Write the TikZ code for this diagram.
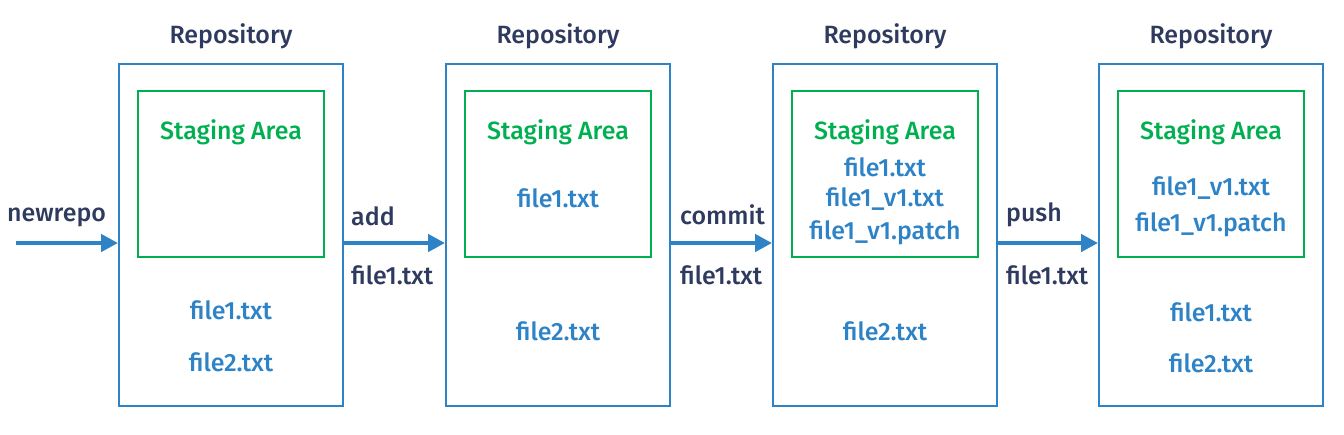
\documentclass[tikz,border=0pt]{standalone}
\usepackage{fontspec}
\setmainfont{Fira Sans Medium}
\usetikzlibrary{arrows.meta}
\definecolor{repoblue}{RGB}{46,131,198}
\definecolor{stagegreen}{RGB}{0,176,80}
\definecolor{labelnavy}{RGB}{47,59,94}
\tikzset{
  repobox/.style={draw=repoblue, line width=1.1pt, minimum width=4.48cm, minimum height=6.84cm},
  stagebox/.style={draw=stagegreen, line width=1.1pt, minimum width=3.72cm, minimum height=3.32cm},
  title/.style={text=labelnavy, font=\fontsize{14.2}{17}\selectfont},
  stagetitle/.style={text=stagegreen, font=\fontsize{14.2}{17}\selectfont},
  fname/.style={text=repoblue, font=\fontsize{14.2}{17}\selectfont},
  steplabel/.style={text=labelnavy, font=\fontsize{14.2}{17}\selectfont, anchor=west},
  flow/.style={repoblue, line width=2.8pt, -{Triangle[length=0.34cm,width=0.34cm]}}
}
\begin{document}
\begin{tikzpicture}[x=0.02cm, y=-0.02cm]
    \useasboundingbox (0,0) rectangle (1344,434);
    % repositories
    \foreach \name/\cx in {repo1/231, repo2/558, repo3/885, repo4/1211} {
        \node[repobox] (\name) at (\cx,235) {};
        \node[title] (\name-title) at (\cx,36) {Repository};
        \node[stagebox] (\name-stage) at (\cx,174) {};
        \node[stagetitle] (\name-stagetitle) at (\cx,132) {Staging Area};
    }
    % staged files
    \node[fname] (s2a) at (558,198) {file1.txt};
    \node[fname] (s3a) at (885,167) {file1.txt};
    \node[fname] (s3b) at (885,199) {file1\_v1.txt};
    \node[fname] (s3c) at (885,233) {file1\_v1.patch};
    \node[fname] (s4a) at (1211,188) {file1\_v1.txt};
    \node[fname] (s4b) at (1211,225) {file1\_v1.patch};
    % working files
    \node[fname] (w1a) at (231,310) {file1.txt};
    \node[fname] (w1b) at (231,362) {file2.txt};
    \node[fname] (w2a) at (558,331) {file2.txt};
    \node[fname] (w3a) at (885,331) {file2.txt};
    \node[fname] (w4a) at (1211,312) {file1.txt};
    \node[fname] (w4b) at (1211,363) {file2.txt};
    % steps
    \coordinate (start) at (16,243);
    \draw[flow] (start) -- (repo1.west |- start);
    \draw[flow] (repo1.east |- start) -- (repo2.west |- start);
    \draw[flow] (repo2.east |- start) -- (repo3.west |- start);
    \draw[flow] (repo3.east |- start) -- (repo4.west |- start);
    \node[steplabel] (l0) at (1,217) {newrepo};
    \node[steplabel] (l1) at (345,216) {add};
    \node[steplabel] (l1f) at (345,275) {file1.txt};
    \node[steplabel] (l2) at (674,215) {commit};
    \node[steplabel] (l2f) at (674,275) {file1.txt};
    \node[steplabel] (l3) at (1000,215) {push};
    \node[steplabel] (l3f) at (1000,275) {file1.txt};
\end{tikzpicture}
\end{document}
